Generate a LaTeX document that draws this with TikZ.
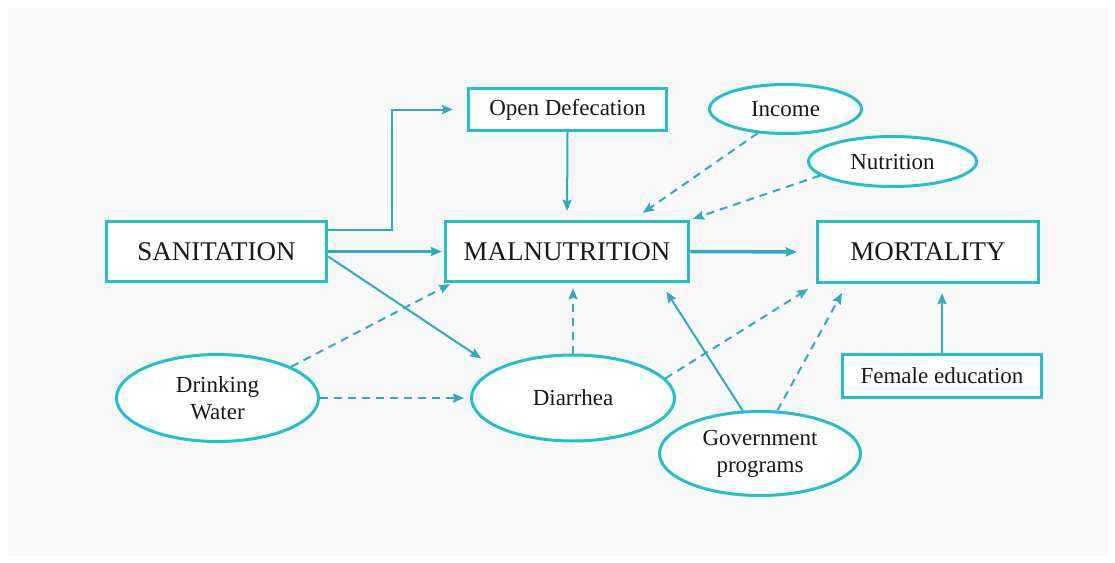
\documentclass[tikz,border=0pt]{standalone}
\usepackage{fontspec}
\setmainfont{Liberation Serif}
\usetikzlibrary{arrows.meta,shapes.geometric}
\definecolor{boxc}{RGB}{34,192,205}
\definecolor{arrc}{RGB}{46,170,194}
\definecolor{txtc}{RGB}{25,25,25}
\definecolor{panelc}{RGB}{248,248,248}
\tikzset{
  bigbox/.style={rectangle, draw=boxc, line width=3.5pt, fill=white, inner sep=0pt,
    font=\fontsize{27}{30}\selectfont, text=txtc},
  smallbox/.style={rectangle, draw=boxc, line width=3pt, fill=white, inner sep=0pt,
    font=\fontsize{23}{27}\selectfont, text=txtc},
  oval/.style={ellipse, draw=boxc, line width=3pt, fill=white, inner sep=0pt,
    font=\fontsize{23}{27}\selectfont, text=txtc, align=center},
  link/.style={draw=arrc, line width=2pt, -{Stealth[length=11pt,width=9pt,inset=1.5pt]}},
  heavylink/.style={link, line width=3.5pt},
  dlink/.style={link, dash pattern=on 8pt off 6pt},
}
\begin{document}
\begin{tikzpicture}[x=1pt,y=-1pt]
\useasboundingbox (0,0) rectangle (1115,562);
\fill[white] (0,0) rectangle (1115,562);
\fill[panelc] (8,8) rectangle (1108,556);

% boxes
\node[bigbox, minimum width=220pt, minimum height=60pt] (san) at (216.5,251.5) {SANITATION};
\node[bigbox, minimum width=243pt, minimum height=60pt] (mal) at (567,251.5) {MALNUTRITION};
\node[bigbox, minimum width=221pt, minimum height=61pt] (mort) at (928,252) {MORTALITY};
\node[smallbox, minimum width=198pt, minimum height=42pt] (od) at (567.5,109.5) {Open Defecation};
\node[smallbox, minimum width=199pt, minimum height=43pt] (fe) at (942,376) {Female education};

% ellipses
\node[oval, minimum width=152pt, minimum height=49pt] (inc) at (785.5,109) {Income};
\node[oval, minimum width=168pt, minimum height=50pt] (nut) at (892.5,161.5) {Nutrition};
\node[oval, minimum width=202pt, minimum height=87pt] (dw) at (217.5,398) {Drinking\\Water};
\node[oval, minimum width=203pt, minimum height=86pt] (dia) at (573,398) {Diarrhea};
\node[oval, minimum width=201pt, minimum height=84pt] (gov) at (760,453.5) {Government\\programs};

% solid connectors
\draw[link, shorten >=14pt] ([yshift=22pt]san.east) -- ++(64,0) |- (od.west);
\draw[heavylink, shorten >=2pt] (san.east) -- (mal.west);
\draw[heavylink, shorten >=19pt] (mal.east) -- (mort.west);
\draw[link, shorten >=18pt] ([yshift=-5pt]san.east) -- (dia.159);
\draw[link, shorten >=9pt] (od.south) -- (mal.north);
\draw[link, shorten >=10pt] (gov.112) -- ([xshift=94pt]mal.south);
\draw[link, shorten >=9pt] (fe.north) -- (fe.north |- mort.south);

% dashed connectors
\draw[dlink, shorten >=12pt] (inc.221) -- ([xshift=66pt]mal.north);
\draw[dlink, shorten >=3pt] (nut.191) -- (mal.north east);
\draw[dlink, shorten >=2pt] (dw.23) -- ([xshift=8pt]mal.south west);
\draw[dlink, shorten >=6pt] (dw.east) -- (dia.west);
\draw[dlink, shorten >=5pt] (dia.north) -- (dia.north |- mal.south);
\draw[dlink, shorten >=9pt] (dia.12) -- (mort.south west);
\draw[dlink, shorten >=10pt] (gov.68) -- ([xshift=31pt]mort.south west);
\end{tikzpicture}
\end{document}
